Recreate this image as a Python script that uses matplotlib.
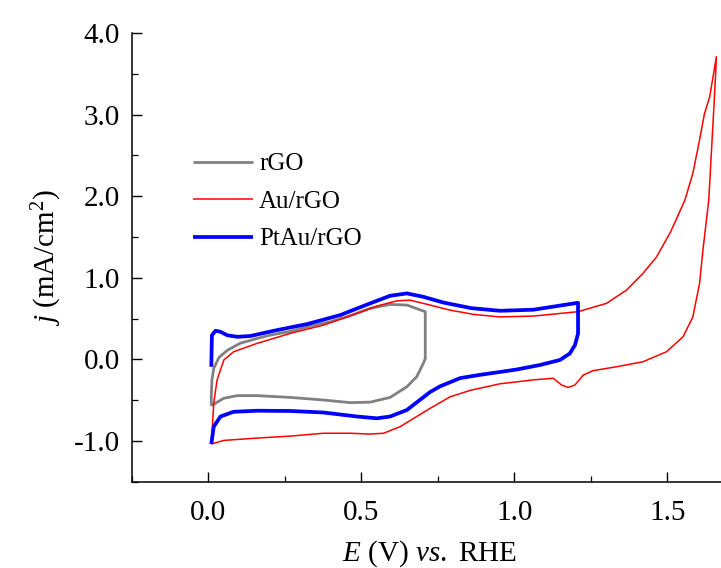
import matplotlib
matplotlib.use("Agg")
import matplotlib.pyplot as plt
from matplotlib.ticker import MultipleLocator, FormatStrFormatter

plt.rcParams['font.family'] = ['Liberation Serif', 'DejaVu Serif']
plt.rcParams['mathtext.fontset'] = 'custom'
plt.rcParams['mathtext.rm'] = 'Liberation Serif'
plt.rcParams['mathtext.it'] = 'Liberation Serif:italic'
plt.rcParams['axes.unicode_minus'] = False

# rGO (gray)
rgo_E = [0.010, 0.010, 0.012, 0.018, 0.035, 0.062, 0.105, 0.160, 0.200, 0.270, 0.330, 0.400,
         0.460, 0.529, 0.594, 0.649, 0.709, 0.709, 0.703, 0.681, 0.649, 0.594, 0.529, 0.464,
         0.377, 0.268, 0.160, 0.095, 0.051, 0.010]
rgo_j = [-0.568, -0.457, -0.252, -0.110, 0.022, 0.110, 0.198, 0.256, 0.295, 0.344, 0.403, 0.461,
         0.530, 0.625, 0.673, 0.665, 0.584, 0.012, -0.047, -0.213, -0.336, -0.467, -0.525, -0.531,
         -0.499, -0.467, -0.445, -0.445, -0.477, -0.568]

# Au/rGO (red)
au_E = [0.010, 0.013, 0.018, 0.029, 0.051, 0.083, 0.160, 0.268, 0.377, 0.486, 0.551, 0.616,
        0.660, 0.725, 0.790, 0.870, 0.953, 1.062, 1.208, 1.301, 1.366, 1.420, 1.464, 1.510,
        1.557, 1.583, 1.605, 1.621, 1.638, 1.660, 1.656, 1.647, 1.635, 1.616, 1.605, 1.583,
        1.551, 1.497, 1.420, 1.334, 1.257, 1.225, 1.198, 1.176, 1.154, 1.127, 1.062, 0.953,
        0.856, 0.790, 0.725, 0.627, 0.573, 0.529, 0.464, 0.377, 0.268, 0.160, 0.051, 0.010]
au_j = [-1.038, -0.867, -0.535, -0.252, -0.008, 0.093, 0.196, 0.318, 0.420, 0.563, 0.653, 0.717,
        0.725, 0.665, 0.603, 0.549, 0.520, 0.530, 0.584, 0.686, 0.848, 1.053, 1.253, 1.560,
        1.951, 2.279, 2.689, 3.011, 3.217, 3.710, 3.383, 2.767, 1.951, 1.341, 0.930, 0.520,
        0.276, 0.093, -0.030, -0.091, -0.139, -0.193, -0.315, -0.344, -0.315, -0.232, -0.252, -0.300,
        -0.380, -0.460, -0.600, -0.825, -0.906, -0.916, -0.906, -0.906, -0.941, -0.965, -0.994, -1.038]

# PtAu/rGO (blue)
ptau_E = [0.010, 0.012, 0.024, 0.040, 0.062, 0.095, 0.138, 0.214, 0.323, 0.431, 0.529, 0.594,
          0.649, 0.703, 0.768, 0.860, 0.953, 1.062, 1.208, 1.208, 1.198, 1.181, 1.149, 1.083,
          1.007, 0.953, 0.888, 0.823, 0.758, 0.725, 0.649, 0.594, 0.551, 0.486, 0.377, 0.268,
          0.160, 0.083, 0.040, 0.018, 0.010]
ptau_j = [-0.091, 0.295, 0.350, 0.338, 0.295, 0.276, 0.286, 0.350, 0.432, 0.542, 0.686, 0.779,
          0.808, 0.766, 0.696, 0.627, 0.595, 0.608, 0.693, 0.315, 0.175, 0.071, -0.008, -0.070,
          -0.125, -0.155, -0.190, -0.230, -0.330, -0.400, -0.621, -0.701, -0.723, -0.701, -0.652, -0.633,
          -0.630, -0.643, -0.701, -0.825, -1.038]

labels = ['rGO', 'Au/rGO', 'PtAu/rGO']
colors = ['#808080', '#ff0000', '#0000ff']
widths = [2.0, 1.1, 2.7]

fig = plt.figure(figsize=(7.21, 5.68), dpi=100)
L, R, T, B = 131.7, 721.0, 33.0, 481.7
ax = fig.add_axes([L / 721, 1 - B / 568, (R - L) / 721, (B - T) / 568])

for E, j, lab, c, w in zip([rgo_E, au_E, ptau_E], [rgo_j, au_j, ptau_j], labels, colors, widths):
    ax.plot(E, j, color=c, lw=w, label=lab, solid_joinstyle='round', solid_capstyle='butt')

ax.set_xlim(-0.25, 1.675)
ax.set_ylim(-1.5, 4.0)
ax.spines['top'].set_visible(False)
ax.spines['right'].set_visible(False)
ax.spines['left'].set_linewidth(1.1)
ax.spines['bottom'].set_linewidth(1.1)

ax.xaxis.set_major_locator(MultipleLocator(0.5))
ax.xaxis.set_minor_locator(MultipleLocator(0.25))
ax.yaxis.set_major_locator(MultipleLocator(1.0))
ax.yaxis.set_minor_locator(MultipleLocator(0.5))
ax.xaxis.set_major_formatter(FormatStrFormatter('%.1f'))
ax.yaxis.set_major_formatter(FormatStrFormatter('%.1f'))
ax.tick_params(which='major', direction='in', length=7.2, width=1.0, labelsize=21)
ax.tick_params(axis='x', which='major', pad=13)
ax.tick_params(axis='y', which='major', pad=8.5)
ax.tick_params(which='minor', direction='in', length=4.1, width=0.9)

ax.set_xlabel(r'$E$ (V) $vs.$ RHE', fontsize=21, va='baseline')
ax.xaxis.set_label_coords(0.505, -0.177)
ax.set_ylabel(r'$j$ (mA/cm$^{2}$)', fontsize=21)
ax.yaxis.set_label_coords(-0.115, 0.5)

leg = ax.legend(loc='upper left', bbox_to_anchor=(0.104, 0.733), frameon=False, fontsize=18,
                handlelength=2.4, labelspacing=0.6, handletextpad=0.25,
                borderaxespad=0.0, borderpad=0.0)

fig.savefig('out.png', dpi=100)
